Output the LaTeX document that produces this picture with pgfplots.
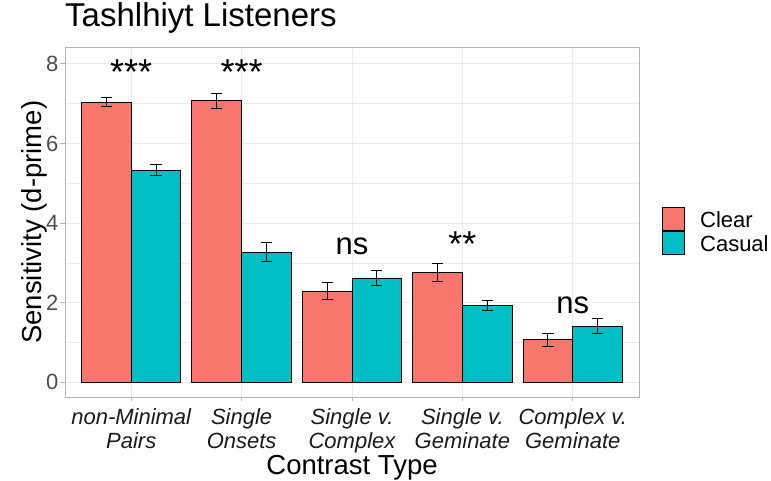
\documentclass[border=0pt]{standalone}
\usepackage{pgfplots}
\pgfplotsset{compat=1.18}
\usepackage{fontspec}
\setmainfont{Liberation Sans}
\definecolor{clearc}{HTML}{F8766D}
\definecolor{casualc}{HTML}{00BFC4}
\definecolor{gridc}{HTML}{EBEBEB}
\definecolor{borderc}{HTML}{B3B3B3}
\definecolor{tickc}{HTML}{4D4D4D}
\definecolor{xtickc}{HTML}{1A1A1A}
\begin{document}
\begin{tikzpicture}
\useasboundingbox (0pt,0pt) rectangle (771pt,481pt);
\begin{axis}[
  at={(65pt,84pt)}, anchor=south west,
  scale only axis, width=574pt, height=349.5pt,
  xmin=0.4, xmax=5.6, ymin=-0.37, ymax=8.41,
  xtick={1,2,3,4,5},
  xticklabels={non-Minimal\\Pairs, Single\\Onsets, Single v.\\Complex, Single v.\\Geminate, Complex v.\\Geminate},
  ytick={0,2,4,6,8},
  yticklabels={0,2,4,6,8},
  minor ytick={1,3,5,7},
  grid=both,
  major grid style={gridc, line width=0.9pt},
  minor grid style={gridc, line width=0.5pt},
  axis line style={borderc, line width=0.9pt},
  tick align=outside, major tick length=4.5pt, minor tick length=0pt,
  tick style={borderc, line width=0.9pt},
  tick pos=left,
  xticklabel style={font=\fontsize{22}{23.4}\selectfont\itshape, align=center, text=xtickc, inner sep=0pt, anchor=north, yshift=-7pt},
  yticklabel style={font=\fontsize{22}{22}\selectfont, text=tickc, inner sep=0pt, anchor=east, xshift=-2pt},
  title={Tashlhiyt Listeners},
  title style={at={(axis description cs:0,1)}, anchor=base west, yshift=14.7pt, inner sep=0pt, font=\fontsize{33}{33}\selectfont},
  xlabel={Contrast Type},
  xlabel style={at={(axis description cs:0.5,0)}, anchor=base, yshift=-78pt, inner sep=0pt, font=\fontsize{27.5}{27.5}\selectfont},
  ylabel={Sensitivity (d-prime)},
  every axis y label/.style={at={(axis description cs:0,0.5)}, rotate=90, anchor=base, yshift=23pt, inner sep=0pt, font=\fontsize{27.5}{27.5}\selectfont},
  error bars/y dir=both, error bars/y explicit,
  error bars/error bar style={black, line width=1pt},
  error bars/error mark options={rotate=90, mark size=5.6pt, black, line width=1pt},
  legend image code/.code={\draw[draw=black, line width=0.9pt, #1] (0pt,-11.2pt) rectangle (22pt,11.5pt);},
  legend style={at={(axis description cs:1.0405,0.5429)}, anchor=north west, draw=none, fill=none, inner sep=0pt, outer sep=0pt, row sep=0pt, font=\fontsize{22}{26}\selectfont, nodes={inner sep=0pt, text height=20pt, text depth=3pt}, /tikz/every odd column/.append style={column sep=15pt}},
  legend cell align=left,
]
\addplot[ybar, bar width=0.45, bar shift=0pt, fill=clearc, draw=black, line width=0.9pt]
  coordinates {(0.775,7.04) +- (0,0.11) (1.775,7.07) +- (0,0.18) (2.775,2.29) +- (0,0.21) (3.775,2.76) +- (0,0.22) (4.775,1.07) +- (0,0.16)};
\addlegendentry{Clear}
\addplot[ybar, bar width=0.45, bar shift=0pt, fill=casualc, draw=black, line width=0.9pt]
  coordinates {(1.225,5.33) +- (0,0.13) (2.225,3.27) +- (0,0.24) (3.225,2.62) +- (0,0.18) (4.225,1.93) +- (0,0.13) (5.225,1.41) +- (0,0.19)};
\addlegendentry{Casual}
\node[font=\fontsize{36}{36}\selectfont, anchor=base, inner sep=0pt] at (axis cs:1,7.47) {***};
\node[font=\fontsize{36}{36}\selectfont, anchor=base, inner sep=0pt] at (axis cs:2,7.47) {***};
\node[font=\fontsize{31}{31}\selectfont, anchor=base, inner sep=0pt] at (axis cs:3,3.22) {ns};
\node[font=\fontsize{36}{36}\selectfont, anchor=base, inner sep=0pt] at (axis cs:4,3.16) {**};
\node[font=\fontsize{31}{31}\selectfont, anchor=base, inner sep=0pt] at (axis cs:5,1.73) {ns};
\end{axis}
\end{tikzpicture}
\end{document}
